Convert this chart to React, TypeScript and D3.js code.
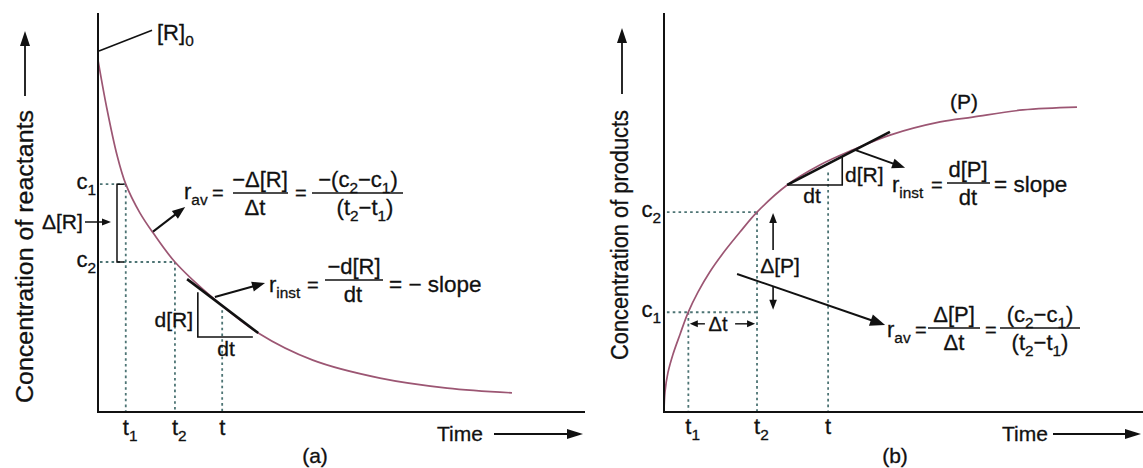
import React from "react";
import * as d3 from "d3";

// ---------- DATA (arbitrary units) ----------
// Panel (a): concentration of reactants vs time
const timeA = [0, 0.18, 0.39, 0.57, 0.86, 1.13, 1.58, 2.36, 3.29, 4.41, 5.79, 7.17, 8.5];
const concA = [8.82, 7.62, 6.44, 5.71, 4.99, 4.49, 3.76, 2.86, 1.98, 1.3, 0.85, 0.6, 0.48];
// marked times t1, t2, t and concentrations c1, c2 on panel (a)
const markTimesA = [0.57, 1.58, 2.55];
const markConcA = [5.71, 3.76];
// tangent segment at t on panel (a)
const tangentA = [[1.83, 3.33], [3.29, 1.98]];

// Panel (b): concentration of products vs time
const timeB = [0, 0.02, 0.08, 0.18, 0.33, 0.49, 0.7, 0.94, 1.25, 1.56, 1.91, 2.53, 3.2, 3.88, 4.64, 5.67, 6.34, 7.37, 8.48];
const concB = [0, 0.5, 0.98, 1.43, 1.95, 2.48, 3.01, 3.51, 4.04, 4.51, 5.01, 5.69, 6.19, 6.57, 6.94, 7.27, 7.39, 7.57, 7.64];
const markTimesB = [0.5, 1.91, 3.37];
const markConcB = [2.5, 5.01];
const tangentB = [[2.53, 5.69], [4.64, 7.02]];

// tick labels (letter, subscript)
const timeTickLabels = [["t", "1"], ["t", "2"], ["t", ""]];
const concTickLabelsA = [["c", "1"], ["c", "2"]];
const concTickLabelsB = [["c", "1"], ["c", "2"]];

// ---------- LAYOUT ----------
const W = 1143;
const H = 468;
const FONT = "'Liberation Sans', Arial, Helvetica, sans-serif";
const CURVE = "#9c5673";
const DOT = "#4d7474";
const INK = "#111";

const xA = d3.scaleLinear().domain([0, 10]).range([98, 585]);
const yA = d3.scaleLinear().domain([0, 10]).range([412, 13]);
const xB = d3.scaleLinear().domain([0, 10]).range([664, 1151]);
const yB = d3.scaleLinear().domain([0, 10]).range([412, 13]);

type Part = string | { s: string };

function Rich({ x, y, parts, fs = 22, anchor = "start" }: { x: number; y: number; parts: Part[]; fs?: number; anchor?: string }) {
  let cur = 0;
  const shift = fs * 0.27;
  return (
    <text
      x={x}
      y={y}
      fontSize={fs}
      textAnchor={anchor as any}
      fontFamily={FONT}
      fill={INK}
      stroke={INK}
      strokeWidth={0.3}
    >
      {parts.map((p, i) => {
        const isSub = typeof p !== "string";
        const target = isSub ? shift : 0;
        const dy = target - cur;
        cur = target;
        return (
          <tspan key={i} dy={dy} fontSize={isSub ? fs * 0.7 : undefined}>
            {isSub ? (p as any).s : (p as string)}
          </tspan>
        );
      })}
    </text>
  );
}

function Arrow({ x1, y1, x2, y2, head = 13, hw = 5, sw = 2 }: any) {
  const a = Math.atan2(y2 - y1, x2 - x1);
  const bx = x2 - head * Math.cos(a);
  const by = y2 - head * Math.sin(a);
  const px = -Math.sin(a) * hw;
  const py = Math.cos(a) * hw;
  return (
    <g>
      <line x1={x1} y1={y1} x2={bx + Math.cos(a) * 2} y2={by + Math.sin(a) * 2} stroke={INK} strokeWidth={sw} />
      <polygon points={`${x2},${y2} ${bx + px},${by + py} ${bx - px},${by - py}`} fill={INK} />
    </g>
  );
}

function Dotted({ x1, y1, x2, y2 }: any) {
  return <line x1={x1} y1={y1} x2={x2} y2={y2} stroke={DOT} strokeWidth={1.8} strokeDasharray="2.6,3.2" />;
}

function Frac({ cx, lineY, x1, x2, num, den, numCx, denCx, fs = 22 }: any) {
  return (
    <g>
      <line x1={x1} y1={lineY} x2={x2} y2={lineY} stroke={INK} strokeWidth={1.4} />
      <Rich x={numCx ?? cx} y={lineY - 6} parts={num} fs={fs} anchor="middle" />
      <Rich x={denCx ?? cx} y={lineY + 22} parts={den} fs={fs} anchor="middle" />
    </g>
  );
}

function Label({ x, y, text, fs = 21, anchor = "start", transform, textLength }: any) {
  return (
    <text
      x={x}
      y={y}
      transform={transform}
      fontSize={fs}
      fontFamily={FONT}
      fill={INK}
      stroke={INK}
      strokeWidth={0.3}
      textAnchor={anchor}
      textLength={textLength}
      lengthAdjust={textLength ? "spacingAndGlyphs" : undefined}
    >
      {text}
    </text>
  );
}

export default function App() {
  const lineA = d3
    .line<number>()
    .x((d, i) => xA(timeA[i]))
    .y((d) => yA(d))
    .curve(d3.curveCatmullRom.alpha(0.5));
  const lineB = d3
    .line<number>()
    .x((d, i) => xB(timeB[i]))
    .y((d) => yB(d))
    .curve(d3.curveCatmullRom.alpha(0.5));

  const [t1a, t2a, ta] = markTimesA;
  const [c1a, c2a] = markConcA;
  const [t1b, t2b, tb] = markTimesB;
  const [c1b, c2b] = markConcB;

  return (
    <svg width={W} height={H} style={{ position: "absolute", left: 0, top: 0, background: "#fff" }} fontFamily={FONT}>
      <rect x={0} y={0} width={W} height={H} fill="#fff" />

      {/* ================= PANEL (a) ================= */}
      <Dotted x1={xA(0.04)} y1={yA(c1a)} x2={xA(t1a)} y2={yA(c1a)} />
      <Dotted x1={xA(t1a)} y1={yA(c1a)} x2={xA(t1a)} y2={yA(0)} />
      <Dotted x1={xA(0.04)} y1={yA(c2a)} x2={xA(t2a)} y2={yA(c2a)} />
      <Dotted x1={xA(t2a)} y1={yA(c2a)} x2={xA(t2a)} y2={yA(0)} />
      <Dotted x1={xA(ta)} y1={yA(2.55)} x2={xA(ta)} y2={yA(0)} />

      <path d={lineA(concA) || ""} fill="none" stroke={CURVE} strokeWidth={1.7} />

      <line x1={xA(0)} y1={yA(0)} x2={xA(0)} y2={yA(10)} stroke={INK} strokeWidth={2} />
      <line x1={xA(0) - 1} y1={yA(0)} x2={xA(10)} y2={yA(0)} stroke={INK} strokeWidth={2} />

      {/* bracket for Δ[R] */}
      <path
        d={`M${xA(0.53)},${yA(c1a)} H${xA(0.39)} V${yA(c2a)} H${xA(0.53)}`}
        fill="none"
        stroke={INK}
        strokeWidth={1.5}
      />
      <Rich x={42} y={229} parts={["Δ[R]"]} fs={21} />
      <Arrow x1={85} y1={222} x2={111} y2={222} head={9} hw={3.5} sw={1.5} />

      {/* tangent and triangle */}
      <line
        x1={xA(tangentA[0][0])}
        y1={yA(tangentA[0][1])}
        x2={xA(tangentA[1][0])}
        y2={yA(tangentA[1][1])}
        stroke={INK}
        strokeWidth={2.6}
      />
      <path d={`M${xA(2.05)},${yA(3.0)} V${yA(1.88)} H${xA(3.18)}`} fill="none" stroke={INK} strokeWidth={1.6} />
      <Rich x={193} y={327} parts={["d[R]"]} fs={21} anchor="end" />
      <Rich x={226} y={356} parts={["dt"]} fs={21} anchor="middle" />

      {/* [R]0 pointer */}
      <line x1={xA(0.02)} y1={yA(9.05)} x2={xA(1.11)} y2={yA(9.57)} stroke={INK} strokeWidth={1.6} />
      <Rich x={157} y={40} parts={["[R]", { s: "0" }]} fs={22} />

      {/* tick labels */}
      {markTimesA.map((t, i) => (
        <Rich key={i} x={xA(t) - 3} y={435} parts={[timeTickLabels[i][0], { s: timeTickLabels[i][1] }]} fs={22} />
      ))}
      {markConcA.map((c, i) => (
        <Rich key={i} x={96} y={yA(c) + 5} parts={[concTickLabelsA[i][0], { s: concTickLabelsA[i][1] }]} fs={22} anchor="end" />
      ))}

      {/* r_av (a) */}
      <Arrow x1={xA(1.13)} y1={yA(4.52)} x2={xA(1.79)} y2={yA(5.14)} />
      <Rich x={184} y={199} parts={["r", { s: "av" }]} fs={22} />
      <Rich x={212} y={200} parts={["="]} fs={20} />
      <Frac x1={233} x2={288} lineY={193} cx={260} denCx={255} num={["−Δ[R]"]} den={["Δt"]} />
      <Rich x={295} y={200} parts={["="]} fs={20} />
      <Frac
        x1={312}
        x2={403}
        lineY={193}
        numCx={358}
        denCx={365}
        num={["−(c", { s: "2" }, "−c", { s: "1" }, ")"]}
        den={["(t", { s: "2" }, "−t", { s: "1" }, ")"]}
      />

      {/* r_inst (a) */}
      <Arrow x1={xA(2.4)} y1={yA(2.88)} x2={xA(3.43)} y2={yA(3.23)} />
      <Rich x={269} y={292} parts={["r", { s: "inst" }]} fs={22} />
      <Rich x={307} y={292} parts={["="]} fs={20} />
      <Frac x1={325} x2={383} lineY={280} numCx={354} denCx={353} num={["−d[R]"]} den={["dt"]} />
      <Rich x={389} y={292} parts={["= − slope"]} fs={22.5} />

      {/* axis labels (a) */}
      <Label transform="translate(33,403) rotate(-90)" fs={23} textLength={293} text="Concentration of reactants" />
      <Arrow x1={25} y1={96} x2={25} y2={31} head={15} hw={5} sw={1.8} />
      <Label x={437} y={441} text="Time" />
      <Arrow x1={494} y1={434} x2={583} y2={434} head={16} hw={5} sw={1.8} />
      <Label x={315} y={463} text="(a)" anchor="middle" />

      {/* ================= PANEL (b) ================= */}
      <Dotted x1={xB(0.06)} y1={yB(c2b)} x2={xB(t2b)} y2={yB(c2b)} />
      <Dotted x1={xB(t2b)} y1={yB(c2b)} x2={xB(t2b)} y2={yB(0)} />
      <Dotted x1={xB(0.06)} y1={yB(c1b)} x2={xB(t2b)} y2={yB(c1b)} />
      <Dotted x1={xB(t1b)} y1={yB(c1b)} x2={xB(t1b)} y2={yB(0)} />
      <Dotted x1={xB(tb)} y1={yB(6.0)} x2={xB(tb)} y2={yB(0)} />

      <path d={lineB(concB) || ""} fill="none" stroke={CURVE} strokeWidth={1.7} />

      <line x1={xB(0)} y1={yB(0)} x2={xB(0)} y2={yB(10)} stroke={INK} strokeWidth={2} />
      <line x1={xB(0) - 1} y1={yB(0)} x2={W} y2={yB(0)} stroke={INK} strokeWidth={2} />

      {/* tangent + triangle */}
      <line
        x1={xB(tangentB[0][0])}
        y1={yB(tangentB[0][1])}
        x2={xB(tangentB[1][0])}
        y2={yB(tangentB[1][1])}
        stroke={INK}
        strokeWidth={2.6}
      />
      <path d={`M${xB(2.53)},${yB(5.69)} H${xB(3.66)} V${yB(6.39)}`} fill="none" stroke={INK} strokeWidth={1.6} />
      <Rich x={845} y={182} parts={["d[R]"]} fs={21} />
      <Rich x={812} y={203} parts={["dt"]} fs={21} anchor="middle" />

      {/* Δt arrows */}
      <Arrow x1={xB(0.84)} y1={yB(2.21)} x2={xB(0.53)} y2={yB(2.21)} head={8} hw={3.5} sw={1.4} />
      <Arrow x1={xB(1.46)} y1={yB(2.21)} x2={xB(1.87)} y2={yB(2.21)} head={8} hw={3.5} sw={1.4} />
      <Rich x={718} y={331} parts={["Δt"]} fs={20} anchor="middle" />

      {/* Δ[P] arrows */}
      <Arrow x1={xB(2.24)} y1={yB(4.06)} x2={xB(2.24)} y2={yB(4.99)} head={10} hw={3.8} sw={1.6} />
      <Arrow x1={xB(2.24)} y1={yB(3.13)} x2={xB(2.24)} y2={yB(2.56)} head={10} hw={3.8} sw={1.6} />
      <Rich x={780} y={273} parts={["Δ[P]"]} fs={21} anchor="middle" />

      <Label x={950} y={109} text="(P)" />

      {markTimesB.map((t, i) => (
        <Rich key={i} x={xB(t) - 3} y={434} parts={[timeTickLabels[i][0], { s: timeTickLabels[i][1] }]} fs={22} />
      ))}
      {markConcB.map((c, i) => (
        <Rich key={i} x={661} y={yB(c) + 5} parts={[concTickLabelsB[i][0], { s: concTickLabelsB[i][1] }]} fs={22} anchor="end" />
      ))}

      {/* r_inst (b) */}
      <Arrow x1={xB(3.92)} y1={yB(6.57)} x2={xB(4.95)} y2={yB(6.12)} />
      <Rich x={892} y={192} parts={["r", { s: "inst" }]} fs={22} />
      <Rich x={931} y={192} parts={["="]} fs={20} />
      <Frac x1={947} x2={990} lineY={183} cx={968} num={["d[P]"]} den={["dt"]} />
      <Rich x={994} y={192} parts={["= slope"]} fs={22.5} />

      {/* r_av (b) */}
      <Arrow x1={xB(1.5)} y1={yB(3.46)} x2={xB(4.54)} y2={yB(2.18)} head={15} hw={6} />
      <Rich x={887} y={337} parts={["r", { s: "av" }]} fs={22} />
      <Rich x={915} y={337} parts={["="]} fs={20} />
      <Frac x1={928} x2={980} lineY={328} cx={954} num={["Δ[P]"]} den={["Δt"]} />
      <Rich x={985} y={337} parts={["="]} fs={20} />
      <Frac
        x1={1000}
        x2={1080}
        lineY={328}
        cx={1040}
        num={["(c", { s: "2" }, "−c", { s: "1" }, ")"]}
        den={["(t", { s: "2" }, "−t", { s: "1" }, ")"]}
      />

      {/* axis labels (b) */}
      <Label transform="translate(628,360) rotate(-90)" fs={23} textLength={250} text="Concentration of products" />
      <Arrow x1={622} y1={94} x2={622} y2={28} head={15} hw={5} sw={1.8} />
      <Label x={1002} y={441} text="Time" />
      <Arrow x1={1053} y1={434} x2={1141} y2={434} head={16} hw={5} sw={1.8} />
      <Label x={895} y={463} text="(b)" anchor="middle" />
    </svg>
  );
}
